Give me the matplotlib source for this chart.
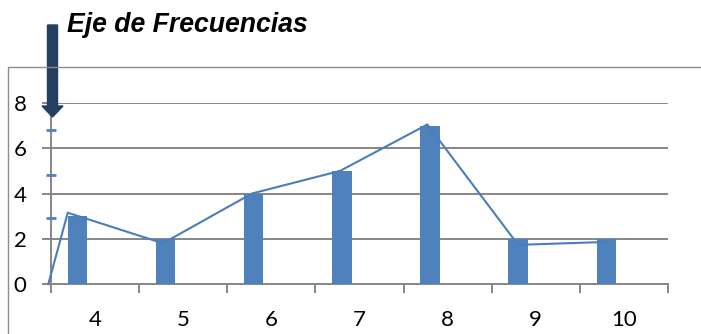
import matplotlib
matplotlib.use("Agg")
import matplotlib.pyplot as plt
from matplotlib.lines import Line2D
from matplotlib.patches import FancyArrow

# frecuencias por valor
valores = ["4", "5", "6", "7", "8", "9", "10"]
frecuencias = [3, 2, 4, 5, 7, 2, 2]

# poligono de frecuencias (posicion en categorias, frecuencia)
poli_x = [-0.53, -0.31, 0.77, 1.78, 2.78, 3.77, 4.80, 5.81]
poli_y = [0, 3.15, 1.8, 4, 5, 7.05, 1.73, 1.86]

# marcas azules sobre el eje vertical
marcas_y = [6.8, 4.8, 2.9]

azul = "#4F81BD"
gris = "#868686"

plt.rcParams["font.family"] = ["Lato", "DejaVu Sans"]

fig = plt.figure(figsize=(7.01, 3.34), dpi=100)
ax = fig.add_axes([51 / 701, 50 / 334, 617 / 701, 181 / 334])

pos = list(range(len(valores)))
ax.bar([p - 0.2 for p in pos], frecuencias, width=0.22, color=azul, zorder=3)
ax.plot(poli_x, poli_y, color="#4A7EBB", lw=1.5, zorder=4, clip_on=False)
ax.plot([-0.5] * len(marcas_y), marcas_y, ls="none", marker="_", ms=7, mew=2,
        color=azul, zorder=5, clip_on=False)

ax.set_xlim(-0.5, len(valores) - 0.5)
ax.set_ylim(0, 8)
ax.set_yticks([0, 2, 4, 6, 8])
ax.set_xticks(pos)
ax.set_xticklabels(valores)
ax.set_xticks([p - 0.5 for p in range(len(valores) + 1)], minor=True)

ax.grid(axis="y", color=gris, lw=1.4, zorder=1)
for s in ["top", "right"]:
    ax.spines[s].set_visible(False)
for s in ["left", "bottom"]:
    ax.spines[s].set_color(gris)
    ax.spines[s].set_linewidth(1.4)
    ax.spines[s].set_zorder(2)

ax.tick_params(axis="y", length=6.5, width=1.4, color=gris, pad=11,
               labelsize=16, labelcolor="black")
ax.tick_params(axis="x", which="major", length=0, pad=19, labelsize=16)
ax.tick_params(axis="x", which="minor", length=6.5, width=1.4, color=gris)

# recuadro del grafico
fig.add_artist(Line2D([8 / 701, 8 / 701, 1], [0, 267 / 334, 267 / 334],
                      transform=fig.transFigure, color="#8c8c8c", lw=1))

# flecha y rotulo del eje de frecuencias
fig.add_artist(FancyArrow(0.525, 3.09, 0, -0.92, width=0.10, head_width=0.21,
                          head_length=0.11, length_includes_head=True,
                          color="#243F60", transform=fig.dpi_scale_trans))
fig.text(67 / 701, 302 / 334, "Eje de Frecuencias", fontsize=19.2,
         fontweight="bold", fontstyle="italic", family="Liberation Sans",
         va="baseline", ha="left")

fig.savefig("out.png", dpi=100, facecolor="white")
